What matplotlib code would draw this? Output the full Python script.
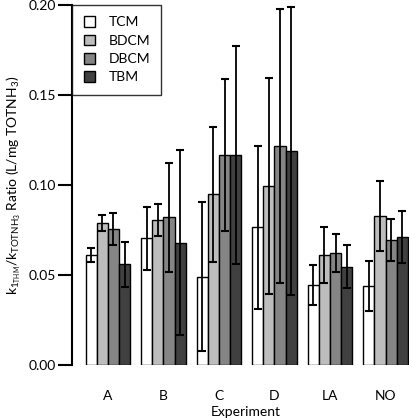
import matplotlib
matplotlib.use("Agg")
import matplotlib.pyplot as plt
import numpy as np

plt.rcParams['font.family'] = ['Lato', 'DejaVu Sans']
plt.rcParams['mathtext.fontset'] = 'custom'
plt.rcParams['mathtext.rm'] = 'Lato'
plt.rcParams['mathtext.it'] = 'Lato'

experiments = ["A", "B", "C", "D", "LA", "NO"]
series = ["TCM", "BDCM", "DBCM", "TBM"]
tcm = [0.0611, 0.0704, 0.0491, 0.0765, 0.0444, 0.0439]
bdcm = [0.0791, 0.0806, 0.0948, 0.0994, 0.0611, 0.0828]
dbcm = [0.0754, 0.0820, 0.1167, 0.1218, 0.0624, 0.0694]
tbm = [0.0559, 0.0680, 0.1167, 0.1189, 0.0546, 0.0709]
tcm_err = [0.0037, 0.0176, 0.0413, 0.0453, 0.0110, 0.0138]
bdcm_err = [0.0045, 0.0090, 0.0377, 0.0600, 0.0154, 0.0193]
dbcm_err = [0.0090, 0.0305, 0.0420, 0.0760, 0.0105, 0.0115]
tbm_err = [0.0123, 0.0513, 0.0605, 0.0800, 0.0120, 0.0145]

values = [tcm, bdcm, dbcm, tbm]
errors = [tcm_err, bdcm_err, dbcm_err, tbm_err]
colors = ["#ffffff", "#bdbdbd", "#858585", "#404040"]

fig = plt.figure(figsize=(4.1, 4.2), dpi=100)
ax = fig.add_axes([72.5/410, 55/420, (410-72.5)/410, 360/420])

x = np.arange(len(experiments))
w = 0.2
for i, (vals, errs, c, name) in enumerate(zip(values, errors, colors, series)):
    pos = x + (i - 1.5) * w
    ax.bar(pos, vals, width=w, color=c, edgecolor="black", linewidth=1.0, label=name, zorder=2)
    ax.errorbar(pos, vals, yerr=errs, fmt="none", ecolor="black", elinewidth=1.3,
                capsize=3, capthick=1.5, zorder=3)

ax.set_xlim(-0.637, 5.44)
ax.set_ylim(0, 0.20)
ax.set_yticks([0.0, 0.05, 0.10, 0.15, 0.20])
ax.set_yticklabels(["0.00", "0.05", "0.10", "0.15", "0.20"])
ax.set_xticks(x)
ax.set_xticklabels(experiments)
for s in ["top", "right", "bottom"]:
    ax.spines[s].set_visible(False)
ax.spines["left"].set_linewidth(1.5)
ax.tick_params(axis="y", direction="out", length=10, width=1.5, labelsize=10, pad=2)
ax.tick_params(axis="x", length=0, labelsize=10, pad=18)

ax.set_xlabel("Experiment", fontsize=10)
ax.xaxis.set_label_coords(0.513, -41/360)
ax.set_ylabel(r"$\mathregular{k_{1_{THM}}/k_{TOTNH_3}}$ Ratio (L/mg TOTNH$_3$)", fontsize=10, labelpad=4)

leg = ax.legend(loc="upper left", fontsize=10, frameon=True, fancybox=False,
                edgecolor="black", borderaxespad=0, handlelength=0.8, handleheight=0.8,
                handletextpad=1.0, labelspacing=0.45, borderpad=0.8)
leg.get_frame().set_linewidth(1.0)

fig.savefig("out.png", dpi=100)
